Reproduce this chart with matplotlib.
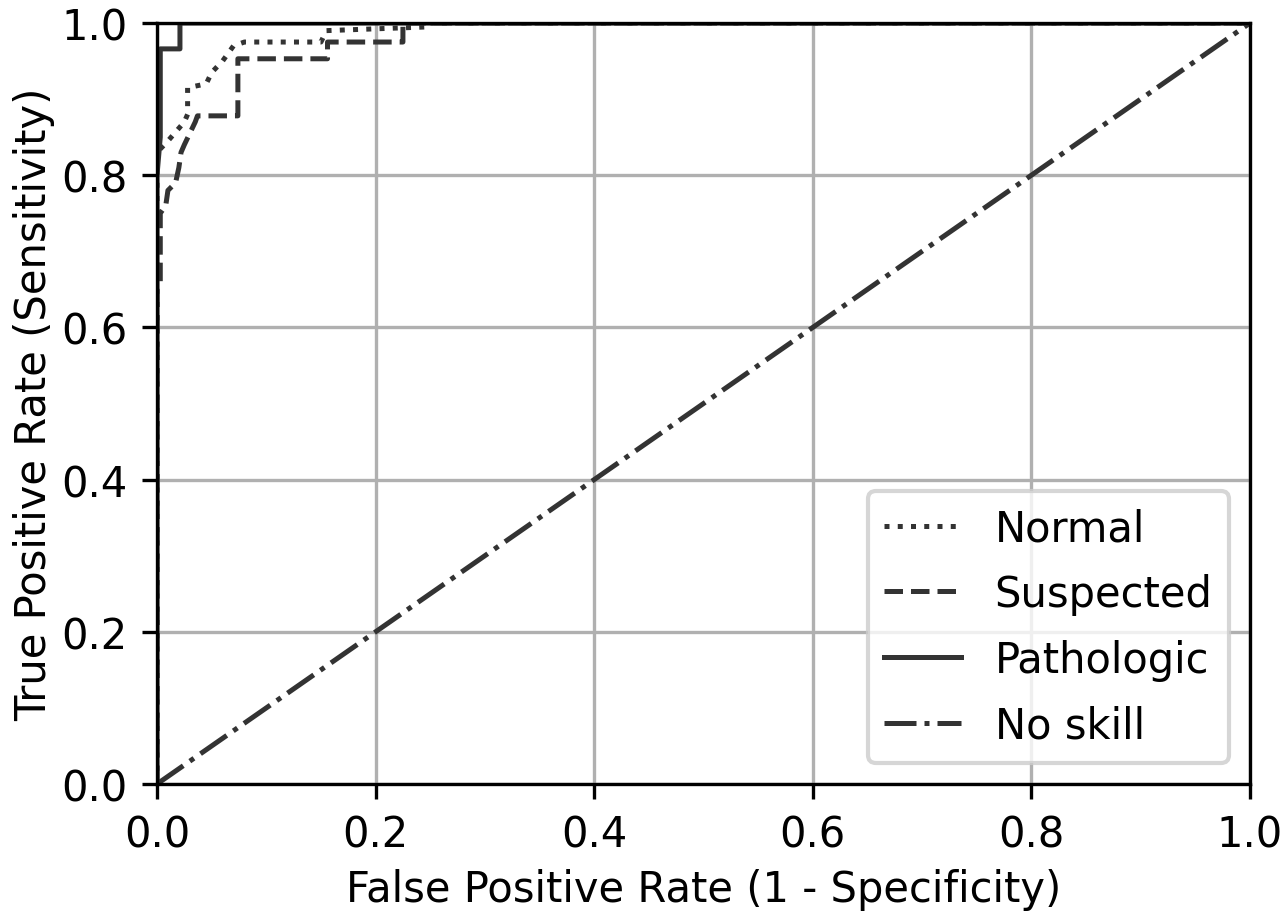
import matplotlib
matplotlib.use("Agg")
import matplotlib.pyplot as plt

# ROC curve points (FPR, TPR)
normal_fpr = [0.0, 0.0, 0.010, 0.025, 0.028, 0.028, 0.045, 0.050, 0.060, 0.065, 0.070, 0.080, 0.150, 0.155, 0.250, 0.250, 1.0]
normal_tpr = [0.0, 0.830, 0.845, 0.870, 0.880, 0.915, 0.920, 0.935, 0.950, 0.960, 0.970, 0.975, 0.975, 0.990, 0.995, 1.0, 1.0]

suspected_fpr = [0.0, 0.0, 0.003, 0.003, 0.008, 0.010, 0.017, 0.020, 0.022, 0.025, 0.035, 0.037, 0.074, 0.074, 0.156, 0.156, 0.225, 0.225, 1.0]
suspected_tpr = [0.0, 0.650, 0.660, 0.750, 0.760, 0.780, 0.790, 0.810, 0.830, 0.840, 0.870, 0.878, 0.878, 0.953, 0.953, 0.975, 0.975, 1.0, 1.0]

patho_fpr = [0.0, 0.0, 0.003, 0.003, 0.021, 0.021, 1.0]
patho_tpr = [0.0, 0.800, 0.850, 0.966, 0.966, 1.0, 1.0]

noskill = [0.0, 1.0]

labels = ["Normal", "Suspected", "Pathologic", "No skill"]
ticks = [0.0, 0.2, 0.4, 0.6, 0.8, 1.0]

fig = plt.figure(figsize=(4.29, 3.0533), dpi=300)
ax = fig.add_axes([157/1287, 1-785/916, (1250-157)/1287, (785-24)/916])

c = "#333333"
lw = 1.2
ax.plot(normal_fpr, normal_tpr, ":", color=c, lw=lw, label=labels[0])
ax.plot(suspected_fpr, suspected_tpr, "--", color=c, lw=lw, label=labels[1])
ax.plot(patho_fpr, patho_tpr, "-", color=c, lw=lw, label=labels[2])
ax.plot(noskill, noskill, "-.", color=c, lw=lw, label=labels[3])

ax.set_xlim(0, 1)
ax.set_ylim(0, 1)
ax.set_xticks(ticks)
ax.set_yticks(ticks)
ax.grid(True)
ax.set_xlabel("False Positive Rate (1 - Specificity)", labelpad=3)
ax.set_ylabel("True Positive Rate (Sensitivity)", labelpad=1.5)
ax.legend(loc="lower right", labelspacing=0.57, handlelength=1.85)

fig.savefig("out.png", dpi=300)
